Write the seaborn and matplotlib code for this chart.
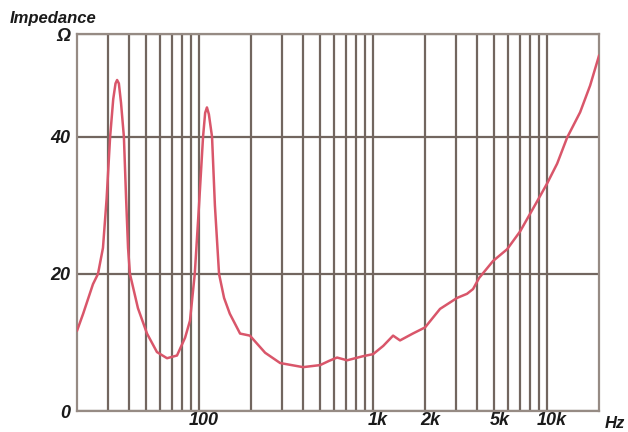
import numpy as np
import pandas as pd
import matplotlib.pyplot as plt
import matplotlib.transforms as mtransforms
import seaborn as sns

# impedance curve (Hz, ohm)
freq = [20, 21.7, 24.7, 26.4, 28.2, 29.6, 31, 32.3, 33.3, 34, 34.8, 35.8, 37.2, 38.3,
        39.3, 40.3, 44.8, 50.5, 57.6, 65.8, 75.1, 83.6, 89.2, 95, 100.5, 106, 109,
        111.6, 114.5, 119.4, 124, 131, 140, 151, 173, 197, 241, 294, 398, 499, 560,
        624, 713, 881, 1006, 1150, 1310, 1436, 1700, 2000, 2438, 3054, 3483, 3774,
        4085, 4921, 5920, 7030, 8810, 10050, 11480, 13100, 15560, 17760, 20000]
ohm = [11.7, 14.2, 18.5, 20, 23.8, 31, 40, 45.5, 47.8, 48.3, 47.8, 45, 40, 31,
       23.8, 20, 15, 11.3, 8.6, 7.7, 8.1, 10.7, 13.2, 20, 30, 40, 43.5,
       44.3, 43.3, 40, 30, 20, 16.5, 14.2, 11.3, 11, 8.5, 7, 6.4, 6.7, 7.3,
       7.8, 7.4, 8, 8.3, 9.5, 11, 10.3, 11.3, 12.2, 14.9, 16.5, 17.1, 17.8,
       19.4, 21.9, 23.6, 26.2, 30.6, 33.2, 36.1, 39.9, 43.6, 47.5, 51.9]

x_grid = [30, 40, 50, 60, 70, 80, 90, 100, 200, 300, 400, 500, 600, 700, 800, 900,
          1000, 2000, 3000, 4000, 5000, 6000, 7000, 8000, 9000, 10000]
x_labels = {100: '100', 1000: '1k', 2000: '2k', 5000: '5k', 10000: '10k'}
y_ticks = [0, 20, 40, 55]
y_labels = ['0', '20', '40', 'Ω']

df = pd.DataFrame({'freq': freq, 'ohm': ohm})

sns.set_style('white')
plt.rcParams['font.family'] = ['Liberation Sans', 'DejaVu Sans']

grid_col = '#72665f'

fig = plt.figure(figsize=(6.28, 4.32), dpi=100)
ax = fig.add_axes([0.1226, 0.0486, 0.8314, 0.8725])

sns.lineplot(data=df, x='freq', y='ohm', ax=ax, color='#d9566a', linewidth=1.8,
             sort=False, zorder=5)

ax.set_xscale('log')
ax.set_xlim(20, 20000)
ax.set_ylim(0, 55)

ax.set_xticks(x_grid)
ax.set_xticklabels([x_labels.get(v, '') for v in x_grid])
ax.xaxis.set_minor_locator(plt.NullLocator())
ax.set_yticks(y_ticks)
ax.set_yticklabels(y_labels)
ax.tick_params(length=0, labelsize=13, pad=5)
ax.tick_params(axis='x', pad=1)
for lab in ax.get_xticklabels() + ax.get_yticklabels():
    lab.set_fontweight('bold')
    lab.set_fontstyle('italic')
    lab.set_color('#1a1a1a')

# labels on the picture sit a little to the right of their lines
offset = mtransforms.ScaledTranslation(5 / 100, 0, fig.dpi_scale_trans)
for lab in ax.get_xticklabels():
    lab.set_transform(lab.get_transform() + offset)

ax.grid(True, axis='both', color=grid_col, linewidth=1.6)
for s in ax.spines.values():
    s.set_color('#968b84')
    s.set_linewidth(1.6)
ax.set_xlabel('')
ax.set_ylabel('')

fig.text(10 / 628, 1 - 18 / 432, 'Impedance', fontsize=12, fontweight='bold',
         fontstyle='italic', va='center', ha='left', color='#1a1a1a')
fig.text(615 / 628, 1 - 424 / 432, 'Hz', fontsize=12, fontweight='bold',
         fontstyle='italic', va='center', ha='center', color='#1a1a1a')

fig.savefig('out.png', dpi=100)
